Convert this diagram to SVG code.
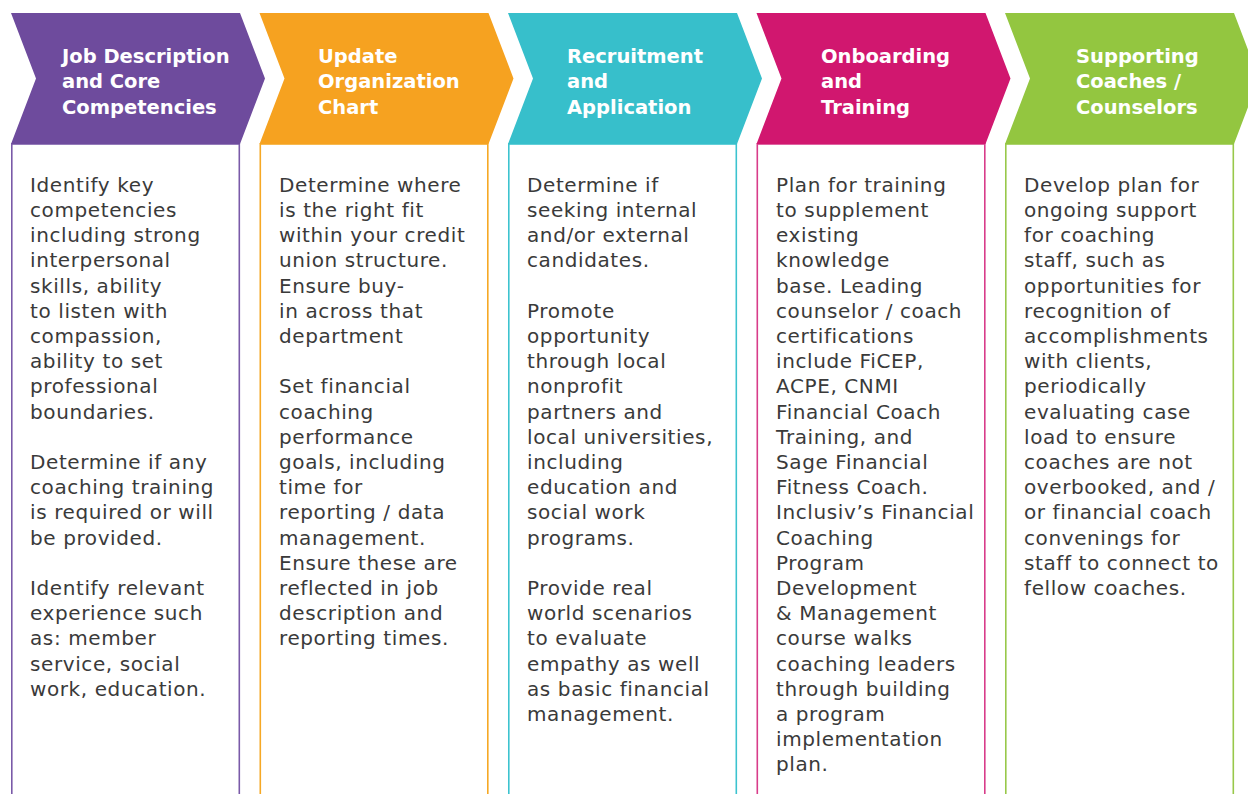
<svg xmlns="http://www.w3.org/2000/svg" width="1248" height="794" viewBox="0 0 1248 794">
  <style>
    .hdr { font-family: "DejaVu Sans", "Liberation Sans", sans-serif; font-weight: bold; font-size: 19.5px; fill: #ffffff; }
    .body { font-family: "DejaVu Sans", "Liberation Sans", sans-serif; font-size: 20px; fill: #3a3a3a; letter-spacing: 0.6px; }
    .box { fill: #ffffff; stroke-width: 1.6; }
  </style>
  <defs>
    <!-- arrow-shaped header, drawn at the origin and shifted per step -->
    <polygon id="chev" points="0,13 229,13 254,78.5 229,144 0,144 25,78.5"/>
  </defs>
  <rect width="1248" height="794" fill="#ffffff"/>

  <g id="step-job-description">
    <rect class="box" x="11.8" y="144" width="227.5" height="660" stroke="#7a5aa8"/>
    <use href="#chev" x="11" fill="#6e4b9d"/>
    <text class="hdr" x="62">
      <tspan x="62" y="62.5">Job Description</tspan>
      <tspan x="62" y="88">and Core</tspan>
      <tspan x="62" y="113.5">Competencies</tspan>
    </text>
    <text class="body">
      <tspan x="30" y="191.7">Identify key</tspan>
      <tspan x="30" dy="25.2">competencies</tspan>
      <tspan x="30" dy="25.2">including strong</tspan>
      <tspan x="30" dy="25.2">interpersonal</tspan>
      <tspan x="30" dy="25.2">skills, ability</tspan>
      <tspan x="30" dy="25.2">to listen with</tspan>
      <tspan x="30" dy="25.2">compassion,</tspan>
      <tspan x="30" dy="25.2">ability to set</tspan>
      <tspan x="30" dy="25.2">professional</tspan>
      <tspan x="30" dy="25.2">boundaries.</tspan>
      <tspan x="30" dy="50.4">Determine if any</tspan>
      <tspan x="30" dy="25.2">coaching training</tspan>
      <tspan x="30" dy="25.2">is required or will</tspan>
      <tspan x="30" dy="25.2">be provided.</tspan>
      <tspan x="30" dy="50.4">Identify relevant</tspan>
      <tspan x="30" dy="25.2">experience such</tspan>
      <tspan x="30" dy="25.2">as: member</tspan>
      <tspan x="30" dy="25.2">service, social</tspan>
      <tspan x="30" dy="25.2">work, education.</tspan>
    </text>
  </g>

  <g id="step-org-chart">
    <rect class="box" x="260.3" y="144" width="227.5" height="660" stroke="#f6a825"/>
    <use href="#chev" x="259.5" fill="#f6a220"/>
    <text class="hdr">
      <tspan x="318" y="62.5">Update</tspan>
      <tspan x="318" y="88">Organization</tspan>
      <tspan x="318" y="113.5">Chart</tspan>
    </text>
    <text class="body">
      <tspan x="279" y="191.7">Determine where</tspan>
      <tspan x="279" dy="25.2">is the right fit</tspan>
      <tspan x="279" dy="25.2">within your credit</tspan>
      <tspan x="279" dy="25.2">union structure.</tspan>
      <tspan x="279" dy="25.2">Ensure buy-</tspan>
      <tspan x="279" dy="25.2">in across that</tspan>
      <tspan x="279" dy="25.2">department</tspan>
      <tspan x="279" dy="50.4">Set financial</tspan>
      <tspan x="279" dy="25.2">coaching</tspan>
      <tspan x="279" dy="25.2">performance</tspan>
      <tspan x="279" dy="25.2">goals, including</tspan>
      <tspan x="279" dy="25.2">time for</tspan>
      <tspan x="279" dy="25.2">reporting / data</tspan>
      <tspan x="279" dy="25.2">management.</tspan>
      <tspan x="279" dy="25.2">Ensure these are</tspan>
      <tspan x="279" dy="25.2">reflected in job</tspan>
      <tspan x="279" dy="25.2">description and</tspan>
      <tspan x="279" dy="25.2">reporting times.</tspan>
    </text>
  </g>

  <g id="step-recruitment">
    <rect class="box" x="508.8" y="144" width="227.5" height="660" stroke="#3cc3cf"/>
    <use href="#chev" x="508" fill="#37bfcb"/>
    <text class="hdr">
      <tspan x="567" y="62.5">Recruitment</tspan>
      <tspan x="567" y="88">and</tspan>
      <tspan x="567" y="113.5">Application</tspan>
    </text>
    <text class="body">
      <tspan x="527" y="191.7">Determine if</tspan>
      <tspan x="527" dy="25.2">seeking internal</tspan>
      <tspan x="527" dy="25.2">and/or external</tspan>
      <tspan x="527" dy="25.2">candidates.</tspan>
      <tspan x="527" dy="50.4">Promote</tspan>
      <tspan x="527" dy="25.2">opportunity</tspan>
      <tspan x="527" dy="25.2">through local</tspan>
      <tspan x="527" dy="25.2">nonprofit</tspan>
      <tspan x="527" dy="25.2">partners and</tspan>
      <tspan x="527" dy="25.2">local universities,</tspan>
      <tspan x="527" dy="25.2">including</tspan>
      <tspan x="527" dy="25.2">education and</tspan>
      <tspan x="527" dy="25.2">social work</tspan>
      <tspan x="527" dy="25.2">programs.</tspan>
      <tspan x="527" dy="50.4">Provide real</tspan>
      <tspan x="527" dy="25.2">world scenarios</tspan>
      <tspan x="527" dy="25.2">to evaluate</tspan>
      <tspan x="527" dy="25.2">empathy as well</tspan>
      <tspan x="527" dy="25.2">as basic financial</tspan>
      <tspan x="527" dy="25.2">management.</tspan>
    </text>
  </g>

  <g id="step-onboarding">
    <rect class="box" x="757.3" y="144" width="227.5" height="660" stroke="#d83d8a"/>
    <use href="#chev" x="756.5" fill="#d1176f"/>
    <text class="hdr">
      <tspan x="821" y="62.5">Onboarding</tspan>
      <tspan x="821" y="88">and</tspan>
      <tspan x="821" y="113.5">Training</tspan>
    </text>
    <text class="body">
      <tspan x="776" y="191.7">Plan for training</tspan>
      <tspan x="776" dy="25.2">to supplement</tspan>
      <tspan x="776" dy="25.2">existing</tspan>
      <tspan x="776" dy="25.2">knowledge</tspan>
      <tspan x="776" dy="25.2">base. Leading</tspan>
      <tspan x="776" dy="25.2">counselor / coach</tspan>
      <tspan x="776" dy="25.2">certifications</tspan>
      <tspan x="776" dy="25.2">include FiCEP,</tspan>
      <tspan x="776" dy="25.2">ACPE, CNMI</tspan>
      <tspan x="776" dy="25.2">Financial Coach</tspan>
      <tspan x="776" dy="25.2">Training, and</tspan>
      <tspan x="776" dy="25.2">Sage Financial</tspan>
      <tspan x="776" dy="25.2">Fitness Coach.</tspan>
      <tspan x="776" dy="25.2">Inclusiv’s Financial</tspan>
      <tspan x="776" dy="25.2">Coaching</tspan>
      <tspan x="776" dy="25.2">Program</tspan>
      <tspan x="776" dy="25.2">Development</tspan>
      <tspan x="776" dy="25.2">&amp; Management</tspan>
      <tspan x="776" dy="25.2">course walks</tspan>
      <tspan x="776" dy="25.2">coaching leaders</tspan>
      <tspan x="776" dy="25.2">through building</tspan>
      <tspan x="776" dy="25.2">a program</tspan>
      <tspan x="776" dy="25.2">implementation</tspan>
      <tspan x="776" dy="25.2">plan.</tspan>
    </text>
  </g>

  <g id="step-support">
    <rect class="box" x="1005.8" y="144" width="227.5" height="660" stroke="#98c84a"/>
    <use href="#chev" x="1005" fill="#93c640"/>
    <text class="hdr">
      <tspan x="1076" y="62.5">Supporting</tspan>
      <tspan x="1076" y="88">Coaches /</tspan>
      <tspan x="1076" y="113.5">Counselors</tspan>
    </text>
    <text class="body">
      <tspan x="1024" y="191.7">Develop plan for</tspan>
      <tspan x="1024" dy="25.2">ongoing support</tspan>
      <tspan x="1024" dy="25.2">for coaching</tspan>
      <tspan x="1024" dy="25.2">staff, such as</tspan>
      <tspan x="1024" dy="25.2">opportunities for</tspan>
      <tspan x="1024" dy="25.2">recognition of</tspan>
      <tspan x="1024" dy="25.2">accomplishments</tspan>
      <tspan x="1024" dy="25.2">with clients,</tspan>
      <tspan x="1024" dy="25.2">periodically</tspan>
      <tspan x="1024" dy="25.2">evaluating case</tspan>
      <tspan x="1024" dy="25.2">load to ensure</tspan>
      <tspan x="1024" dy="25.2">coaches are not</tspan>
      <tspan x="1024" dy="25.2">overbooked, and /</tspan>
      <tspan x="1024" dy="25.2">or financial coach</tspan>
      <tspan x="1024" dy="25.2">convenings for</tspan>
      <tspan x="1024" dy="25.2">staff to connect to</tspan>
      <tspan x="1024" dy="25.2">fellow coaches.</tspan>
    </text>
  </g>
</svg>
